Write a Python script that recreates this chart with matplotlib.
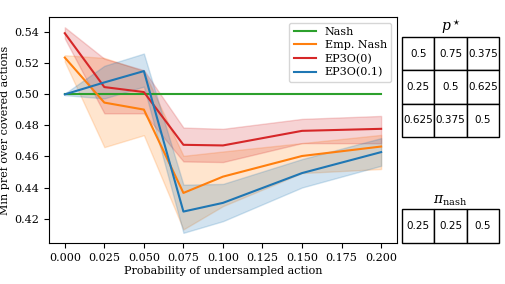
import matplotlib
matplotlib.use("Agg")
import matplotlib.pyplot as plt
import numpy as np

x = [0.0, 0.025, 0.05, 0.075, 0.1, 0.15, 0.2]

nash = [0.5, 0.5, 0.5, 0.5, 0.5, 0.5, 0.5]

emp_nash = [0.5237, 0.4947, 0.4902, 0.4365, 0.4470, 0.4603, 0.4664]
emp_nash_lo = [0.5210, 0.4660, 0.4737, 0.4130, 0.4280, 0.4493, 0.4519]
emp_nash_hi = [0.5252, 0.5235, 0.5150, 0.4604, 0.4632, 0.4686, 0.4739]

ep3o_0 = [0.5394, 0.5047, 0.5015, 0.4675, 0.4671, 0.4765, 0.4778]
ep3o_0_lo = [0.5360, 0.4878, 0.4878, 0.4568, 0.4564, 0.4686, 0.4685]
ep3o_0_hi = [0.5432, 0.5230, 0.5156, 0.4786, 0.4778, 0.4842, 0.4861]

ep3o_01 = [0.5000, 0.5077, 0.5150, 0.4245, 0.4301, 0.4493, 0.4628]
ep3o_01_lo = [0.4995, 0.4974, 0.5050, 0.4108, 0.4183, 0.4400, 0.4540]
ep3o_01_hi = [0.5005, 0.5184, 0.5263, 0.4418, 0.4423, 0.4583, 0.4718]

p_star = [["0.5", "0.75", "0.375"],
          ["0.25", "0.5", "0.625"],
          ["0.625", "0.375", "0.5"]]
pi_nash = [["0.25", "0.25", "0.5"]]

plt.rcParams['font.family'] = ['DejaVu Serif']
plt.rcParams['mathtext.fontset'] = 'dejavuserif'

fig = plt.figure(figsize=(5.05, 2.84), dpi=100)
ax = fig.add_axes([0.097, 0.144, 0.689, 0.796])

ax.plot(x, nash, color='tab:green', lw=1.5, label='Nash')
series = [
    (emp_nash, emp_nash_lo, emp_nash_hi, 'tab:orange', 'Emp. Nash'),
    (ep3o_0, ep3o_0_lo, ep3o_0_hi, 'tab:red', 'EP3O(0)'),
    (ep3o_01, ep3o_01_lo, ep3o_01_hi, 'tab:blue', 'EP3O(0.1)'),
]
for m, lo, hi, c, lab in series:
    ax.plot(x, m, color=c, lw=1.5, label=lab)
    ax.fill_between(x, lo, hi, color=c, alpha=0.2)

ax.set_xticks([0.0, 0.025, 0.05, 0.075, 0.1, 0.125, 0.15, 0.175, 0.2])
ax.set_xticklabels(["0.000", "0.025", "0.050", "0.075", "0.100", "0.125", "0.150", "0.175", "0.200"])
ax.set_yticks([0.42, 0.44, 0.46, 0.48, 0.50, 0.52, 0.54])
ax.tick_params(labelsize=8)
ax.set_xlabel("Probability of undersampled action", fontsize=8, labelpad=2)
ax.set_ylabel("Min pref over covered actions", fontsize=8, labelpad=3)
ax.legend(loc='upper right', fontsize=8, handlelength=2.0, borderpad=0.4, labelspacing=0.3)


def draw_table(rect, data, title):
    tax = fig.add_axes(rect)
    tax.axis('off')
    tbl = tax.table(cellText=data, cellLoc='center', bbox=[0, 0, 1, 1])
    tbl.auto_set_font_size(False)
    tbl.set_fontsize(7.5)
    for (r, c), cell in tbl.get_celld().items():
        cell.set_linewidth(1.0)
        cell.PAD = 0.02
        cell.get_text().set_family('DejaVu Sans')
    tax.set_title(title, fontsize=10, pad=4)
    return tax


draw_table([0.796, 0.518, 0.192, 0.352], p_star, r"$p^\star$")
draw_table([0.796, 0.144, 0.192, 0.120], pi_nash, r"$\pi_{\rm nash}$")

fig.savefig("out.png", dpi=100)
